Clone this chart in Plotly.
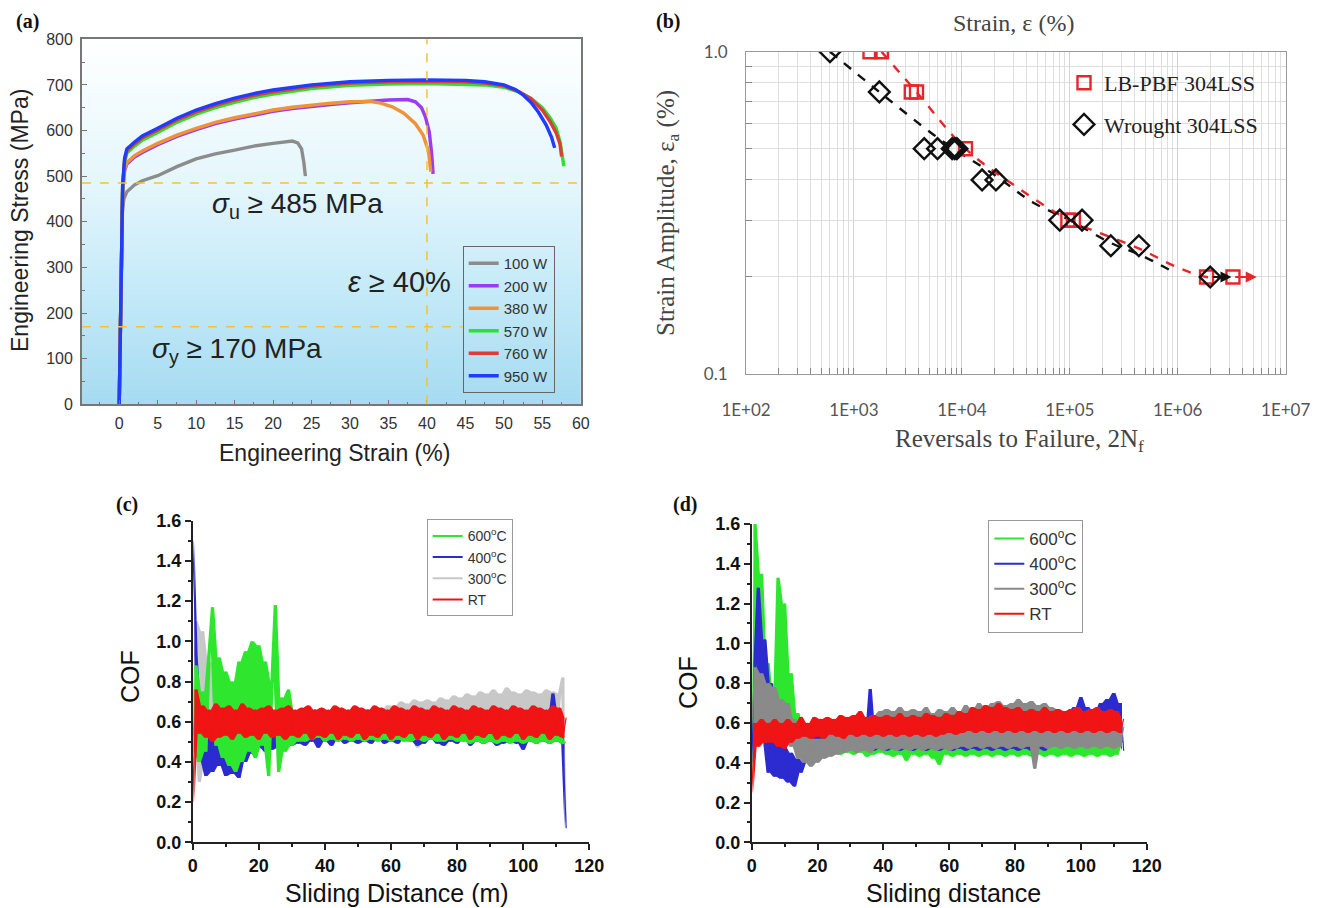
import math
import plotly.graph_objects as go

W, H = 1321, 908          # target picture
OX, OY = 8, 8             # page offset of the plot div
FW, FH = W - OX, H - OY   # figure size

# ---------------- Panel (a): tensile curves ----------------
A_SERIES = ["100 W", "200 W", "380 W", "570 W", "760 W", "950 W"]
STRAIN_100 = [0, 0.2, 0.4, 0.6, 1, 2, 3, 5, 7.5, 10, 12.5, 15, 17.5, 20, 21.5, 22.5, 23.2, 23.7, 24.0, 24.2]
STRESS_100 = [0, 200, 420, 450, 466, 481, 490, 501, 521, 538, 549, 557, 566, 572, 575, 577, 573, 560, 530, 500]
STRAIN_200 = [0, 0.25, 0.45, 0.7, 1, 2, 3, 5, 7.5, 10, 12.5, 15, 17.5, 20, 22.5, 25, 27.5, 30, 32.5, 35, 37.5, 38.5, 39.3, 39.8, 40.3, 40.6, 40.8]
STRESS_200 = [0, 250, 465, 512, 527, 542, 552, 569, 587, 602, 615, 625, 634, 642, 648, 653, 657, 661, 664, 667, 668, 663, 650, 630, 597, 552, 505]
STRAIN_380 = [0, 0.25, 0.45, 0.7, 1, 2, 3, 5, 7.5, 10, 12.5, 15, 17.5, 20, 22.5, 25, 27.5, 30, 32.5, 34, 35.5, 37, 38.5, 39.5, 40.2, 40.5]
STRESS_380 = [0, 250, 470, 515, 530, 545, 555, 572, 590, 605, 618, 628, 637, 645, 651, 656, 660, 663, 664, 660, 652, 638, 615, 590, 555, 510]
STRAIN_570 = [0, 0.25, 0.45, 0.7, 1, 2, 3, 5, 7.5, 10, 12.5, 15, 17.5, 20, 25, 30, 35, 40, 45, 47.5, 50, 52, 53.5, 55, 56, 56.8, 57.3, 57.6, 57.8]
STRESS_570 = [0, 250, 480, 530, 551, 566, 579, 596, 618, 636, 650, 662, 672, 680, 692, 699, 702, 703, 702, 700, 695, 684, 671, 650, 628, 605, 575, 548, 522]
STRAIN_760 = [0, 0.25, 0.45, 0.7, 1, 2, 3, 5, 7.5, 10, 12.5, 15, 17.5, 20, 25, 30, 35, 40, 45, 47.5, 50, 52, 53.5, 55, 56, 56.8, 57.3, 57.5]
STRESS_760 = [0, 250, 480, 535, 556, 571, 584, 601, 623, 641, 655, 667, 677, 685, 697, 704, 707, 708, 707, 704, 698, 685, 670, 645, 620, 595, 570, 543]
STRAIN_950 = [0, 0.25, 0.45, 0.7, 1, 2, 3, 5, 7.5, 10, 12.5, 15, 17.5, 20, 25, 30, 35, 40, 45, 47.5, 50, 51.5, 52.5, 53.5, 54.5, 55.5, 56.2, 56.6]
STRESS_950 = [0, 250, 480, 540, 560, 575, 588, 605, 627, 645, 659, 671, 681, 689, 700, 707, 710, 711, 710, 707, 700, 690, 678, 662, 640, 612, 585, 562]
A_COLORS = ["#8c8c8c", "#9a3cf0", "#f0923a", "#2fe02f", "#e03a3a", "#1f3cff"]
UTS_MIN, YS_MIN, ELONG_MIN = 485, 170, 40

# ---------------- Panel (b): strain-life ----------------
LB_N = [1.41e3, 1.80e3, 3.4e3, 3.8e3, 1.08e4, 9.6e4, 1.08e5, 1.85e6, 3.25e6]
LB_EA = [1.0, 1.0, 0.75, 0.75, 0.5, 0.3, 0.3, 0.2, 0.2]
WR_N = [600, 1.72e3, 4.48e3, 5.95e3, 8.14e3, 8.6e3, 9.0e3, 1.54e4, 2.07e4, 8.07e4, 1.3e5, 2.4e5, 4.36e5, 2.0e6]
WR_EA = [1.0, 0.75, 0.5, 0.5, 0.5, 0.5, 0.5, 0.4, 0.4, 0.3, 0.3, 0.25, 0.25, 0.2]
LB_FIT_N = [1.8e3, 3.8e3, 1.08e4, 3.2e4, 1.0e5, 4.4e5, 9.7e5, 1.85e6, 3.25e6]
LB_FIT_EA = [1.0, 0.75, 0.5, 0.381, 0.30, 0.245, 0.215, 0.2, 0.2]
WR_FIT_N = [600, 1.72e3, 6.25e3, 2.0e4, 4.6e4, 1.0e5, 2.4e5, 4.4e5, 9.7e5]
WR_FIT_EA = [1.0, 0.75, 0.535, 0.415, 0.34, 0.30, 0.255, 0.235, 0.205]
LB_RUNOUT = (3.3e6, 5.4e6, 0.2)
WR_RUNOUT = (2.05e6, 3.15e6, 0.2)
B_XTICK_ALIAS = {"100": "1E+02", "1000": "1E+03", "1,000": "1E+03", "10000": "1E+04", "10,000": "1E+04",
                 "100000": "1E+05", "100,000": "1E+05", "1000000": "1E+06", "1,000,000": "1E+06",
                 "10000000": "1E+07", "10,000,000": "1E+07"}
B_YTICK_ALIAS = {"1": "1.0", "0.1": "0.1"}

# ---------------- Panels (c), (d): COF traces (hundredths) ----------------
DIST = list(range(0, 114))
C_RT = [20, 76, 54, 68, 52, 66, 50, 69, 52, 67,
        53, 68, 51, 66, 54, 69, 52, 67, 53, 66,
        51, 67, 54, 68, 52, 66, 53, 67, 51, 68,
        53, 66, 52, 67, 54, 68, 51, 66, 53, 67,
        52, 66, 54, 68, 51, 67, 53, 66, 52, 68,
        54, 67, 51, 66, 53, 68, 52, 67, 54, 66,
        51, 68, 53, 67, 52, 66, 54, 68, 51, 67,
        53, 66, 52, 68, 54, 67, 51, 66, 53, 68,
        52, 67, 54, 66, 51, 68, 53, 67, 52, 66,
        54, 68, 51, 67, 53, 66, 52, 68, 54, 67,
        51, 66, 53, 68, 52, 67, 54, 66, 51, 68,
        53, 67, 52, 62]
C_600 = [45, 88, 40, 75, 45, 95, 117, 48, 92, 42,
         85, 38, 80, 35, 90, 40, 95, 45, 100, 42,
         98, 48, 90, 33, 80, 118, 35, 72, 45, 76,
         48, 65, 50, 62, 50, 67, 51, 60, 52, 58,
         50, 57, 51, 56, 50, 57, 51, 56, 50, 55,
         51, 56, 50, 55, 51, 56, 50, 55, 51, 55,
         50, 55, 51, 54, 50, 55, 50, 54, 51, 55,
         50, 54, 51, 55, 50, 54, 50, 55, 51, 54,
         50, 54, 50, 55, 49, 54, 50, 55, 49, 54,
         50, 54, 49, 55, 50, 54, 49, 54, 50, 55,
         49, 54, 50, 54, 49, 55, 50, 54, 49, 54,
         50, 54, 49, 50]
C_400 = [150, 93, 40, 65, 33, 60, 35, 55, 38, 72,
         33, 50, 34, 45, 32, 52, 40, 58, 44, 55,
         47, 56, 45, 55, 46, 55, 47, 57, 48, 56,
         48, 58, 49, 57, 48, 60, 50, 66, 47, 59,
         50, 60, 48, 59, 51, 61, 49, 60, 50, 58,
         49, 61, 50, 66, 49, 60, 51, 59, 49, 61,
         50, 60, 49, 62, 51, 59, 50, 61, 48, 60,
         49, 61, 51, 60, 49, 62, 48, 60, 50, 61,
         49, 60, 51, 62, 48, 60, 50, 61, 49, 62,
         50, 60, 48, 61, 49, 62, 50, 60, 49, 61,
         46, 60, 50, 62, 49, 61, 50, 60, 49, 74,
         50, 61, 49, 7]
C_300 = [60, 110, 30, 105, 40, 90, 35, 88, 42, 80,
         40, 75, 38, 70, 40, 72, 42, 68, 45, 66,
         46, 65, 48, 64, 47, 65, 50, 63, 50, 64,
         51, 63, 50, 64, 52, 63, 51, 65, 52, 64,
         51, 65, 52, 64, 51, 65, 52, 66, 51, 65,
         52, 66, 51, 65, 52, 67, 51, 66, 52, 68,
         51, 68, 52, 70, 51, 69, 52, 71, 47, 70,
         52, 71, 51, 70, 52, 72, 51, 71, 52, 73,
         51, 72, 53, 74, 52, 73, 51, 75, 53, 74,
         52, 76, 53, 74, 52, 77, 53, 75, 52, 74,
         53, 76, 52, 75, 53, 74, 52, 76, 53, 75,
         52, 74, 82, 10]
D_600 = [30, 160, 60, 135, 55, 90, 50, 70, 133, 60,
         120, 55, 85, 48, 65, 45, 58, 44, 56, 45,
         55, 46, 56, 44, 52, 45, 53, 44, 52, 45,
         53, 44, 52, 45, 53, 43, 52, 44, 53, 45,
         52, 44, 53, 43, 52, 44, 53, 41, 52, 44,
         53, 43, 52, 44, 53, 42, 52, 39, 53, 44,
         52, 43, 53, 44, 52, 43, 53, 44, 52, 43,
         53, 44, 52, 43, 53, 44, 52, 43, 53, 44,
         52, 43, 53, 44, 52, 43, 53, 44, 52, 43,
         53, 44, 52, 43, 53, 44, 52, 43, 53, 44,
         52, 43, 53, 44, 52, 43, 53, 44, 52, 43,
         53, 44, 52, 50]
D_400 = [40, 90, 128, 50, 102, 35, 80, 33, 60, 32,
         48, 30, 45, 28, 42, 35, 40, 45, 55, 44,
         56, 45, 55, 47, 54, 46, 55, 47, 53, 46,
         54, 47, 55, 46, 54, 47, 77, 46, 55, 47,
         54, 46, 55, 47, 54, 46, 55, 47, 54, 46,
         55, 47, 54, 46, 55, 47, 54, 46, 55, 47,
         54, 46, 55, 47, 54, 46, 55, 47, 54, 46,
         55, 47, 54, 46, 55, 47, 54, 46, 55, 47,
         54, 46, 55, 47, 54, 46, 55, 47, 54, 46,
         55, 48, 58, 50, 62, 52, 66, 50, 68, 52,
         73, 50, 68, 52, 66, 50, 70, 52, 72, 50,
         75, 52, 70, 46]
D_300 = [60, 88, 55, 85, 50, 80, 55, 78, 52, 72,
         50, 70, 48, 62, 42, 55, 40, 54, 38, 52,
         40, 52, 42, 54, 43, 55, 44, 56, 45, 58,
         46, 60, 45, 62, 46, 63, 45, 64, 47, 66,
         46, 67, 47, 66, 46, 68, 47, 66, 46, 67,
         47, 66, 46, 68, 47, 65, 46, 67, 47, 66,
         46, 68, 47, 66, 48, 69, 47, 67, 48, 70,
         47, 68, 48, 70, 47, 71, 48, 69, 47, 70,
         48, 72, 47, 70, 48, 71, 37, 69, 48, 70,
         47, 68, 48, 67, 47, 66, 48, 67, 47, 68,
         48, 66, 47, 67, 48, 66, 47, 65, 48, 66,
         47, 65, 48, 58]
D_RT = [25, 60, 48, 62, 50, 60, 50, 62, 48, 60,
        47, 62, 50, 60, 52, 63, 53, 60, 52, 63,
        53, 62, 52, 63, 54, 62, 53, 64, 52, 63,
        54, 64, 53, 66, 54, 63, 53, 64, 54, 63,
        53, 64, 54, 63, 53, 65, 54, 63, 53, 64,
        54, 63, 53, 65, 54, 64, 53, 63, 54, 65,
        55, 64, 54, 66, 55, 65, 56, 68, 55, 67,
        56, 69, 55, 68, 56, 70, 55, 68, 56, 67,
        55, 68, 56, 66, 55, 67, 56, 66, 55, 68,
        56, 66, 55, 67, 56, 66, 55, 67, 56, 68,
        55, 66, 56, 67, 55, 68, 56, 66, 55, 67,
        56, 66, 55, 62]
COF_NAMES = ["600<sup>o</sup>C", "400<sup>o</sup>C", "300<sup>o</sup>C", "RT"]
C_COLORS = ["#2ee62e", "#2b2bd0", "#c8c8c8", "#f01414"]
D_COLORS = ["#2ee62e", "#2b2bd0", "#8a8a8a", "#f01414"]

SANS = "Liberation Sans, Arial, sans-serif"
SERIF = "Liberation Serif, Times New Roman, serif"


def px(x):
    return (x - OX) / FW


def py(y):
    return 1 - (y - OY) / FH


fig = go.Figure()

# ---- (a) traces
a_x = [STRAIN_100, STRAIN_200, STRAIN_380, STRAIN_570, STRAIN_760, STRAIN_950]
a_y = [STRESS_100, STRESS_200, STRESS_380, STRESS_570, STRESS_760, STRESS_950]
for name, xs, ys, col in zip(A_SERIES, a_x, a_y, A_COLORS):
    fig.add_trace(go.Scatter(x=xs, y=ys, mode="lines", name=name, line=dict(color=col, width=3.4),
                             xaxis="x", yaxis="y", legend="legend", hoverinfo="skip"))

# ---- (b) traces
fig.add_trace(go.Scatter(x=WR_FIT_N, y=WR_FIT_EA, mode="lines", line=dict(color="#111", width=2.4, dash="dash", shape="spline"),
                         xaxis="x2", yaxis="y2", showlegend=False, hoverinfo="skip"))
fig.add_trace(go.Scatter(x=LB_FIT_N, y=LB_FIT_EA, mode="lines", line=dict(color="#e8262a", width=2.4, dash="dash", shape="spline"),
                         xaxis="x2", yaxis="y2", showlegend=False, hoverinfo="skip"))
fig.add_trace(go.Scatter(x=LB_N, y=LB_EA, mode="markers", name="LB-PBF 304LSS",
                         marker=dict(symbol="square-open", size=13, color="#e8262a", line=dict(width=2.4, color="#e8262a")),
                         xaxis="x2", yaxis="y2", legend="legend2", legendgroup="lb"))
fig.add_trace(go.Scatter(x=WR_N, y=WR_EA, mode="markers", name="Wrought 304LSS",
                         marker=dict(symbol="diamond-open", size=16, color="#111", line=dict(width=2.4, color="#111")),
                         xaxis="x2", yaxis="y2", legend="legend2", legendgroup="wr"))


# ---- (c), (d) traces: dense noise drawn as a filled band under the raw trace
def add_cof(ys_hund, col, ax, group):
    ys = [v / 100 for v in ys_hund]
    bx, hi, lo = [], [], []
    for i in range(len(ys) - 1):
        bx.append(DIST[i] + 0.5)
        hi.append(max(ys[i], ys[i + 1]))
        lo.append(min(ys[i], ys[i + 1]))
    fig.add_trace(go.Scatter(x=bx + bx[::-1], y=hi + lo[::-1], mode="lines", fill="toself", fillcolor=col,
                             line=dict(width=0, color=col), xaxis="x" + ax, yaxis="y" + ax,
                             showlegend=False, hoverinfo="skip", legendgroup=group))
    fig.add_trace(go.Scatter(x=DIST, y=ys, mode="lines", line=dict(color=col, width=1.2),
                             xaxis="x" + ax, yaxis="y" + ax, showlegend=False, hoverinfo="skip", legendgroup=group))


def add_keys(colors, ax, lg, tag):
    for name, col in zip(COF_NAMES, colors):
        fig.add_trace(go.Scatter(x=[None], y=[None], mode="lines", name=name, line=dict(color=col, width=2),
                                 xaxis="x" + ax, yaxis="y" + ax, legend=lg, legendgroup=tag + name))


# draw order (c): 300, 400, 600, RT ; (d): 600, 400, 300, RT
for ys, i in [(C_300, 2), (C_400, 1), (C_600, 0), (C_RT, 3)]:
    add_cof(ys, C_COLORS[i], "3", "c" + COF_NAMES[i])
add_keys(C_COLORS, "3", "legend3", "c")
for ys, i in [(D_600, 0), (D_400, 1), (D_300, 2), (D_RT, 3)]:
    add_cof(ys, D_COLORS[i], "4", "d" + COF_NAMES[i])
add_keys(D_COLORS, "4", "legend4", "d")

# ---------------- shapes ----------------
shapes = []
stops = [(0.0, (166, 219, 241)), (0.3, (195, 233, 248)), (0.6, (228, 246, 252)), (1.0, (255, 255, 255))]


def grad(t):
    for (t0, c0), (t1, c1) in zip(stops[:-1], stops[1:]):
        if t0 <= t <= t1:
            f = (t - t0) / (t1 - t0)
            return "rgb(%d,%d,%d)" % tuple(round(a + (b - a) * f) for a, b in zip(c0, c1))
    return "rgb(255,255,255)"


NB = 60
for i in range(NB):
    shapes.append(dict(type="rect", xref="x domain", yref="y domain", x0=0, x1=1, y0=i / NB, y1=(i + 1) / NB + 0.002,
                       fillcolor=grad((i + 0.5) / NB), line=dict(width=0), layer="below"))
dash_style = dict(color="#f2c23a", width=1.5, dash="dash")
shapes.append(dict(type="line", xref="x domain", yref="y", x0=0, x1=1, y0=UTS_MIN, y1=UTS_MIN, line=dash_style))
shapes.append(dict(type="line", xref="x", yref="y", x0=-4.85, x1=44.6, y0=YS_MIN, y1=YS_MIN, line=dash_style))
shapes.append(dict(type="line", xref="x", yref="y domain", x0=ELONG_MIN, x1=ELONG_MIN, y0=0, y1=1, line=dash_style))

# ---------------- annotations ----------------
ann = []


def text(x, y, s, size, family=SANS, color="#222", angle=0, **kw):
    ann.append(dict(x=px(x), y=py(y), xref="paper", yref="paper", text=s, showarrow=False, textangle=angle,
                    font=dict(family=family, size=size, color=color), xanchor="center", yanchor="middle", **kw))


text(27, 21, "<b>(a)</b>", 20, SERIF, "#111")
text(668, 21, "<b>(b)</b>", 20, SERIF, "#111")
text(127, 505, "<b>(c)</b>", 20, SERIF, "#111")
text(685, 505, "<b>(d)</b>", 20, SERIF, "#111")
text(334, 453, "Engineering Strain (%)", 23, SANS, "#222")
text(20, 221, "Engineering Stress (MPa)", 23, SANS, "#222", angle=-90)
ann.append(dict(x=23.2, y=435, xref="x", yref="y", showarrow=False, text="<i>σ</i><sub>u</sub> ≥ 485 MPa",
                font=dict(family=SANS, size=28, color="#222")))
ann.append(dict(x=15.25, y=119, xref="x", yref="y", showarrow=False, text="<i>σ</i><sub>y</sub> ≥ 170 MPa",
                font=dict(family=SANS, size=28, color="#222")))
ann.append(dict(x=36.4, y=268, xref="x", yref="y", showarrow=False, text="<i>ε</i> ≥ 40%",
                font=dict(family=SANS, size=29, color="#222")))
text(1013, 23, "Strain, ε (%)", 24, SERIF, "#444")
text(1019, 440, "Reversals to Failure, 2N<sub>f</sub>", 25, SERIF, "#444")
text(668, 213, "Strain Amplitude, ε<sub>a</sub> (%)", 25, SERIF, "#444", angle=-90)
for (n0, n1, ea), col in [(LB_RUNOUT, "#e8262a"), (WR_RUNOUT, "#111")]:
    ann.append(dict(x=math.log10(n1), y=math.log10(ea), ax=math.log10(n0), ay=math.log10(ea),
                    xref="x2", yref="y2", axref="x2", ayref="y2", text="", showarrow=True,
                    arrowhead=2, arrowsize=1.1, arrowwidth=2, arrowcolor=col))
text(397, 893, "Sliding Distance (m)", 25, SANS, "#111")
text(130, 677, "COF", 25, SANS, "#111", angle=-90)
text(953, 893, "Sliding distance", 25, SANS, "#111")
text(688, 683, "COF", 25, SANS, "#111", angle=-90)

# ---------------- axes ----------------
a_tick = dict(family=SANS, size=16, color="#333")
cd_tick = dict(family=SANS, size=18, color="#111", weight="bold")
b_tick = dict(family="Lato, Open Sans, sans-serif", size=17, color="#555")

layout = dict(
    width=FW, height=FH, margin=dict(l=0, r=0, t=0, b=0, autoexpand=False), paper_bgcolor="white",
    plot_bgcolor="rgba(0,0,0,0)", showlegend=True,
    xaxis=dict(domain=[px(81.9), px(580.8)], anchor="y", range=[-4.85, 60], tick0=0, dtick=5, ticks="inside", ticklen=5,
               tickcolor="#777", showline=True, linecolor="#777", linewidth=1.6, mirror=True, showgrid=False, zeroline=False,
               tickfont=a_tick, minor=dict(dtick=2.5, tick0=0, ticks="inside", ticklen=3, tickcolor="#777"),
               ticklabelstandoff=4, automargin=False),
    yaxis=dict(domain=[py(404.3), py(39.3)], anchor="x", range=[0, 800], dtick=100, ticks="inside", ticklen=5,
               tickcolor="#777", showline=True, linecolor="#777", linewidth=1.6, mirror=True, showgrid=False, zeroline=False,
               tickfont=a_tick, minor=dict(dtick=50, ticks="inside", ticklen=3, tickcolor="#777"), ticklabelstandoff=4,
               automargin=False),
    xaxis2=dict(domain=[px(746), px(1285.7)], anchor="y2", type="log", range=[2, 7.0005], dtick=1, tick0=0,
                exponentformat="none", separatethousands=False, labelalias=B_XTICK_ALIAS,
                ticks="inside", ticklen=6, tickcolor="#888", showline=True, linecolor="#999", linewidth=1.2, mirror=True,
                showgrid=True, gridcolor="#d4d4d4", gridwidth=1, zeroline=False, tickfont=b_tick, ticklabelstandoff=20,
                minor=dict(dtick="D1", showgrid=True, gridcolor="#dedede", gridwidth=1, ticks="inside", ticklen=6,
                           tickcolor="#888"),
                automargin=False),
    yaxis2=dict(domain=[py(374), py(51.7)], anchor="x2", type="log", range=[-1, 0], dtick=1, tick0=0,
                exponentformat="none", labelalias=B_YTICK_ALIAS,
                ticks="inside", ticklen=6, tickcolor="#888", showline=True, linecolor="#999", linewidth=1.2, mirror=True,
                showgrid=True, gridcolor="#d4d4d4", gridwidth=1, zeroline=False, tickfont=b_tick, ticklabelstandoff=14,
                minor=dict(dtick="D1", showgrid=True, gridcolor="#dedede", gridwidth=1, ticks="inside", ticklen=6,
                           tickcolor="#888"),
                automargin=False),
    xaxis3=dict(domain=[px(192.7), px(589.3)], anchor="y3", range=[0, 120], dtick=20, ticks="outside", ticklen=6,
                tickwidth=1.5, tickcolor="#222", showline=True, linecolor="#222", linewidth=1.5, showgrid=False,
                zeroline=False, tickfont=cd_tick, minor=dict(dtick=10, ticks="outside", ticklen=3, tickcolor="#222"),
                automargin=False),
    yaxis3=dict(domain=[py(842.3), py(520.7)], anchor="x3", range=[0, 1.6], dtick=0.2, tickformat=".1f", ticks="outside",
                ticklen=6, tickwidth=1.5, tickcolor="#222", showline=True, linecolor="#222", linewidth=1.5,
                showgrid=False, zeroline=False, tickfont=cd_tick,
                minor=dict(dtick=0.1, ticks="outside", ticklen=3, tickcolor="#222"), automargin=False),
    xaxis4=dict(domain=[px(751.7), px(1146.7)], anchor="y4", range=[0, 120], dtick=20, ticks="outside", ticklen=6,
                tickwidth=1.5, tickcolor="#222", showline=True, linecolor="#222", linewidth=1.5, showgrid=False,
                zeroline=False, tickfont=cd_tick, minor=dict(dtick=10, ticks="outside", ticklen=3, tickcolor="#222"),
                automargin=False),
    yaxis4=dict(domain=[py(842.3), py(524)], anchor="x4", range=[0, 1.6], dtick=0.2, tickformat=".1f", ticks="outside",
                ticklen=6, tickwidth=1.5, tickcolor="#222", showline=True, linecolor="#222", linewidth=1.5,
                showgrid=False, zeroline=False, tickfont=cd_tick,
                minor=dict(dtick=0.1, ticks="outside", ticklen=3, tickcolor="#222"), automargin=False),
    legend=dict(x=px(462.7), y=py(246), xanchor="left", yanchor="top", bgcolor="rgba(0,0,0,0)", bordercolor="#666",
                borderwidth=1, font=dict(family=SANS, size=15, color="#333"), itemwidth=30, tracegroupgap=0),
    legend2=dict(x=px(1064), y=py(62), xanchor="left", yanchor="top", bgcolor="rgba(0,0,0,0)", borderwidth=0,
                 font=dict(family=SERIF, size=22, color="#222"), tracegroupgap=10, itemwidth=30),
    legend3=dict(x=px(426.7), y=py(519.3), xanchor="left", yanchor="top", bgcolor="white", bordercolor="#999",
                 borderwidth=1, font=dict(family=SANS, size=14, color="#333"), itemwidth=30, tracegroupgap=0),
    legend4=dict(x=px(988.3), y=py(520), xanchor="left", yanchor="top", bgcolor="white", bordercolor="#999",
                 borderwidth=1, font=dict(family=SANS, size=17, color="#333"), itemwidth=30, tracegroupgap=0),
    shapes=shapes, annotations=ann,
)
fig.update_layout(**layout)

fig.write_html("out.html")
